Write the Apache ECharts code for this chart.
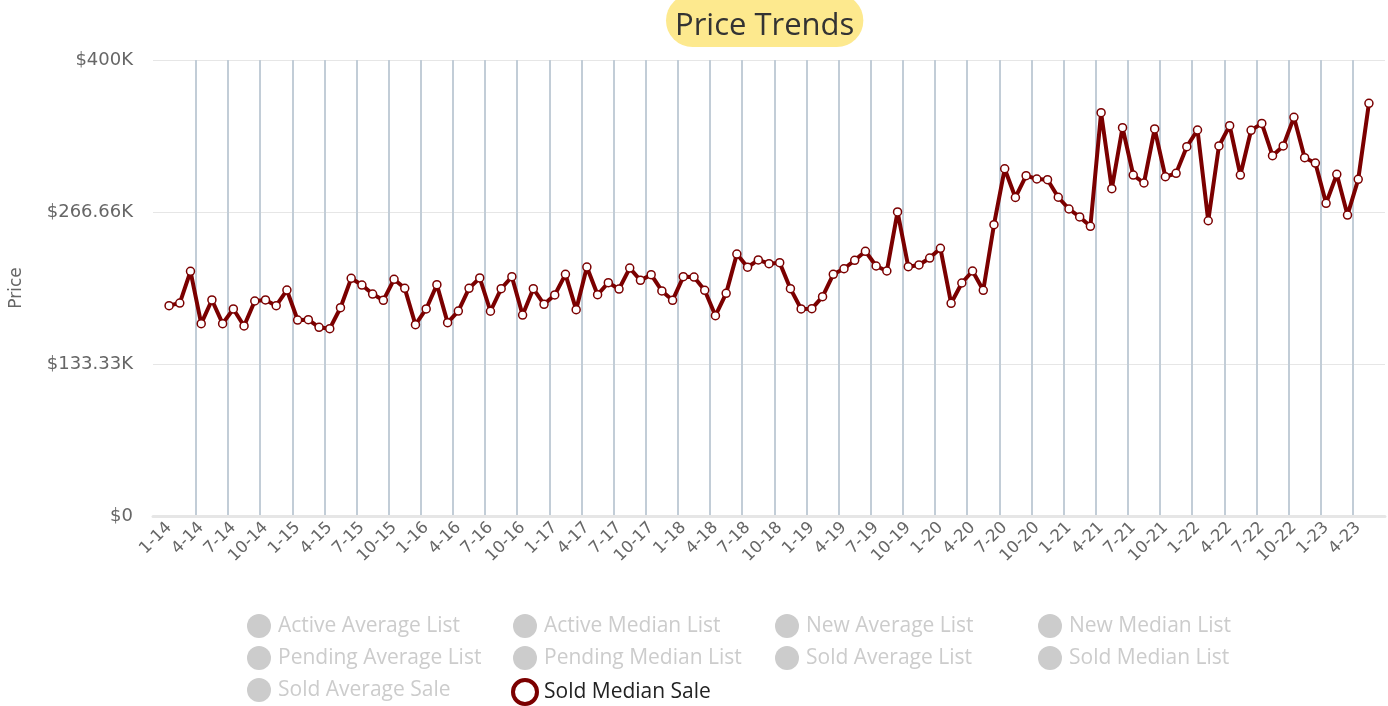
<!DOCTYPE html>
<html>
<head>
<meta charset="utf-8">
<script src="https://cdn.jsdelivr.net/npm/echarts@6/dist/echarts.min.js"></script>
<style>
  html, body { margin: 0; padding: 0; background: #fff; }
  #chart { width: 1388px; height: 706px; }
</style>
</head>
<body>
<div id="chart"></div>
<script>
var months = [
  '1-14','2-14','3-14','4-14','5-14','6-14','7-14','8-14','9-14','10-14','11-14','12-14',
  '1-15','2-15','3-15','4-15','5-15','6-15','7-15','8-15','9-15','10-15','11-15','12-15',
  '1-16','2-16','3-16','4-16','5-16','6-16','7-16','8-16','9-16','10-16','11-16','12-16',
  '1-17','2-17','3-17','4-17','5-17','6-17','7-17','8-17','9-17','10-17','11-17','12-17',
  '1-18','2-18','3-18','4-18','5-18','6-18','7-18','8-18','9-18','10-18','11-18','12-18',
  '1-19','2-19','3-19','4-19','5-19','6-19','7-19','8-19','9-19','10-19','11-19','12-19',
  '1-20','2-20','3-20','4-20','5-20','6-20','7-20','8-20','9-20','10-20','11-20','12-20',
  '1-21','2-21','3-21','4-21','5-21','6-21','7-21','8-21','9-21','10-21','11-21','12-21',
  '1-22','2-22','3-22','4-22','5-22','6-22','7-22','8-22','9-22','10-22','11-22','12-22',
  '1-23','2-23','3-23','4-23','5-23'
];

// sold median sale, dollars
var soldMedianSale = [
  184500, 186800, 214600, 168700, 189500, 168700, 181600, 166700, 188600, 189500, 184500, 198200,
  171900, 172200, 165500, 164300, 182700, 208500, 202600, 194700, 189200, 207600, 199700, 167800,
  181600, 202900, 169600, 179800, 199700, 208800, 179600, 199400, 209900, 176300, 199400, 185700,
  193900, 212000, 181000, 218400, 194100, 204700, 199100, 217500, 206700, 211700, 197400, 189200,
  209900, 209600, 198000, 175700, 195300, 229800, 218200, 224600, 221300, 222200, 199400, 181600,
  181900, 192400, 212000, 216900, 224300, 232200, 219300, 214900, 266700, 218700, 220200, 226300,
  234800, 186600, 204400, 214900, 198000, 255500, 304600, 279400, 298500, 295600, 295000, 279600,
  269300, 262300, 254100, 353800, 287100, 340600, 299100, 292100, 339500, 297600, 300600, 324000,
  338600, 259000, 324600, 342400, 299100, 338300, 344400, 316100, 324600, 349700, 314300, 309600,
  274300, 299700, 264000, 295300, 362000
];

var yTickLabels = ['$0', '$133.33K', '$266.66K', '$400K'];

var legendCols = [
  ['Active Average List', 'Pending Average List', 'Sold Average Sale'],
  ['Active Median List', 'Pending Median List', 'Sold Median Sale'],
  ['New Average List', 'Sold Average List'],
  ['New Median List', 'Sold Median List']
];
var legendLefts = [247, 511, 775, 1038];
var activeName = 'Sold Median Sale';

var lineColor = '#7b0000';
var fontFamily = '"Open Sans", "Noto Sans", sans-serif';
var axisFont = '"DejaVu Sans", sans-serif';

// one empty slot each side, like the original's padding
var xData = [' '].concat(months, ['  ']);
var yData = ['-'].concat(soldMedianSale, ['-']);
// category boundaries for the vertical grid lines
var bounds = [];
for (var i = 0; i <= xData.length; i++) bounds.push('b' + i);

var selected = {};
var seriesList = [];
legendCols.forEach(function (col) {
  col.forEach(function (name) {
    selected[name] = name === activeName;
    if (name !== activeName) {
      seriesList.push({ name: name, type: 'line', data: [] });
    }
  });
});
seriesList.push({
  name: activeName,
  type: 'line',
  xAxisIndex: 0,
  data: yData,
  symbol: 'circle',
  symbolSize: 8,
  showAllSymbol: true,
  lineStyle: { color: lineColor, width: 4 },
  itemStyle: { color: '#fff', borderColor: lineColor, borderWidth: 1.5 },
  emphasis: { disabled: true }
});

var legends = legendCols.map(function (col, c) {
  return {
    orient: 'vertical',
    left: legendLefts[c],
    top: 614,
    padding: 0,
    height: 120,
    itemWidth: 28,
    itemHeight: 24,
    itemGap: 8,
    inactiveColor: '#cccccc',
    inactiveBorderColor: '#cccccc',
    selected: selected,
    textStyle: { fontFamily: fontFamily, fontSize: 21, color: '#222' },
    data: col.map(function (name) {
      if (name === activeName) {
        return { name: name, icon: 'circle',
          itemStyle: { color: '#fff', borderColor: lineColor, borderWidth: 4 } };
      }
      return { name: name, icon: 'circle' };
    })
  };
});

var myChart = echarts.init(document.getElementById('chart'));
myChart.setOption({
  animation: false,
  backgroundColor: '#fff',
  title: {
    text: 'Price Trends',
    left: 666,
    top: -6,
    padding: [17, 9, 5, 9],
    backgroundColor: '#fde98e',
    borderRadius: 28,
    textStyle: { fontFamily: fontFamily, fontSize: 31, fontWeight: 'normal', color: '#333' }
  },
  legend: legends,
  grid: { left: 147, right: 3, top: 60, bottom: 190, containLabel: false },
  xAxis: [{
    type: 'category',
    data: xData,
    boundaryGap: true,
    axisLine: { lineStyle: { color: '#e6e6e6', width: 3 } },
    axisTick: { show: false },
    splitLine: { show: false },
    axisLabel: {
      interval: function (index) { return index >= 1 && index <= 112 && (index - 1) % 3 === 0; },
      rotate: 45,
      margin: 9,
      color: '#666',
      fontFamily: axisFont,
      fontSize: 16.5
    }
  }, {
    type: 'category',
    data: bounds,
    boundaryGap: false,
    position: 'bottom',
    axisLine: { show: false },
    axisTick: { show: false },
    axisLabel: { show: false },
    splitLine: {
      show: true,
      interval: function (index) { return index >= 4 && index <= 112 && (index - 4) % 3 === 0; },
      lineStyle: { color: '#c2cdd7', width: 2 }
    }
  }],
  yAxis: {
    type: 'value',
    min: 0,
    max: 400000,
    interval: 400000 / 3,
    name: 'Price',
    nameLocation: 'middle',
    nameGap: 128,
    nameTextStyle: { color: '#666', fontFamily: axisFont, fontSize: 17 },
    axisLine: { show: false },
    axisTick: { show: false },
    splitLine: { lineStyle: { color: '#e6e6e6', width: 1 } },
    axisLabel: {
      color: '#666',
      fontFamily: axisFont,
      fontSize: 18,
      margin: 20,
      formatter: function (v, idx) { return yTickLabels[idx]; }
    }
  },
  series: seriesList
});
</script>
</body>
</html>
